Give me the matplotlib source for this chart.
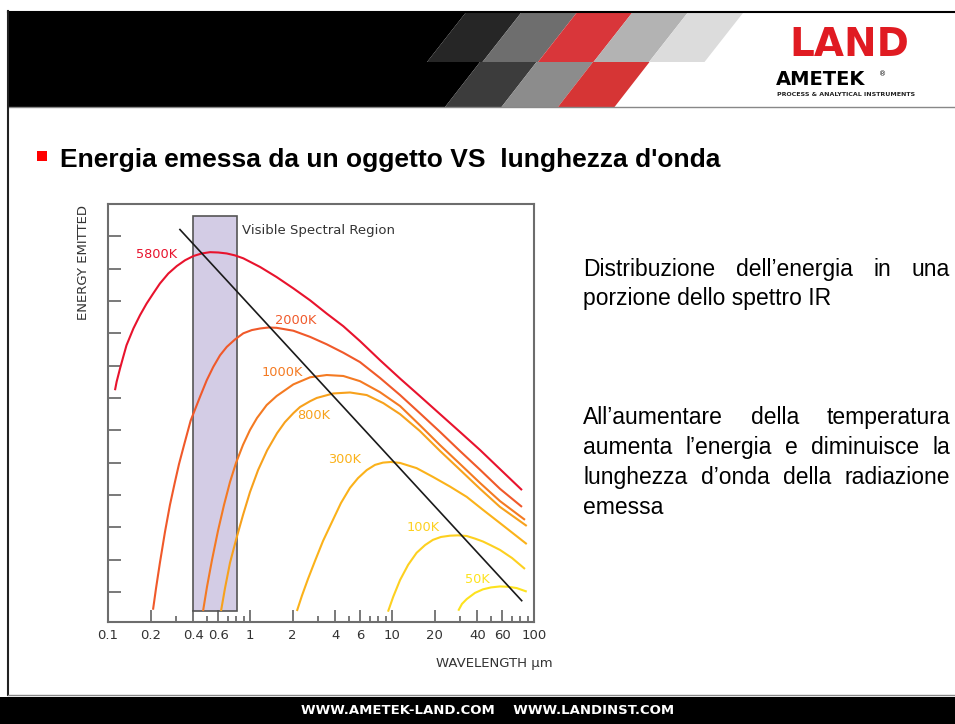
import matplotlib
matplotlib.use('Agg')
import matplotlib.pyplot as plt
from matplotlib.patches import Polygon, Rectangle
from matplotlib.ticker import FixedLocator, NullFormatter

# curves: wavelength (um) vs relative energy
wl_5800 = [0.112, 0.115, 0.1215, 0.128, 0.135, 0.151, 0.168, 0.187, 0.208, 0.232, 0.266,
           0.305, 0.349, 0.399, 0.457, 0.523, 0.598, 0.686, 0.784, 0.897, 1.18, 1.54,
           2.02, 2.65, 3.47, 4.54, 5.95, 8.23, 11.4, 15.7, 21.8, 30.1, 41.7, 57.6, 82.3]
en_5800 = [7.24, 7.50, 7.91, 8.27, 8.63, 9.15, 9.56, 9.92, 10.23, 10.54, 10.85,
           11.08, 11.26, 11.39, 11.47, 11.51, 11.50, 11.47, 11.41, 11.32, 11.05, 10.74,
           10.39, 10.02, 9.61, 9.22, 8.76, 8.17, 7.60, 7.06, 6.50, 5.95, 5.39, 4.80, 4.15]

wl_2000 = [0.2075, 0.218, 0.232, 0.252, 0.273, 0.296, 0.316, 0.343, 0.382, 0.445, 0.496,
           0.551, 0.615, 0.686, 0.784, 0.897, 1.03, 1.18, 1.35, 1.54, 2.02, 2.65, 3.47,
           4.54, 5.95, 8.23, 11.4, 15.7, 21.8, 30.1, 41.7, 57.6, 82.3]
en_2000 = [0.45, 1.12, 1.90, 2.86, 3.69, 4.40, 4.95, 5.54, 6.30, 7.04, 7.55,
           7.96, 8.32, 8.58, 8.81, 9.00, 9.10, 9.15, 9.18, 9.17, 9.08, 8.89, 8.66,
           8.40, 8.11, 7.62, 7.09, 6.53, 5.95, 5.36, 4.78, 4.19, 3.63]

wl_1000 = [0.467, 0.498, 0.540, 0.595, 0.656, 0.723, 0.797, 0.893, 1.00, 1.12, 1.31,
           1.54, 2.02, 2.65, 3.47, 4.54, 5.95, 8.23, 11.4, 15.7, 21.8, 30.1, 41.7,
           57.6, 86.4]
en_1000 = [0.41, 1.16, 1.99, 2.89, 3.69, 4.40, 4.99, 5.55, 6.01, 6.38, 6.78,
           7.06, 7.42, 7.64, 7.71, 7.68, 7.52, 7.18, 6.75, 6.16, 5.54, 4.96, 4.37,
           3.81, 3.23]

wl_800 = [0.625, 0.667, 0.723, 0.797, 0.893, 1.00, 1.14, 1.32, 1.55, 1.76, 2.02,
          2.25, 2.65, 2.95, 3.86, 5.06, 6.64, 8.69, 11.4, 15.7, 21.8, 30.1, 41.7,
          57.6, 88.9]
en_800 = [0.41, 1.12, 1.90, 2.61, 3.38, 4.09, 4.77, 5.38, 5.91, 6.25, 6.53,
          6.72, 6.90, 7.00, 7.14, 7.17, 7.09, 6.84, 6.50, 5.98, 5.36, 4.78, 4.19,
          3.63, 3.04]

wl_300 = [2.14, 2.32, 2.56, 2.87, 3.27, 3.84, 4.37, 5.06, 5.76, 6.64, 7.59, 8.64,
          9.84, 11.4, 14.9, 19.4, 25.6, 33.6, 43.7, 57.6, 88.9]
en_300 = [0.41, 0.88, 1.40, 1.96, 2.58, 3.23, 3.75, 4.22, 4.52, 4.77, 4.93, 5.00,
          5.02, 4.99, 4.83, 4.56, 4.26, 3.94, 3.54, 3.13, 2.48]

wl_100 = [9.37, 10.2, 11.4, 13.0, 14.9, 17.1, 19.4, 22.1, 25.6, 29.2, 33.6, 38.4,
          43.7, 49.8, 57.6, 70.0, 86.4]
en_100 = [0.39, 0.85, 1.37, 1.84, 2.21, 2.45, 2.61, 2.70, 2.74, 2.75, 2.73, 2.65,
          2.56, 2.44, 2.30, 2.05, 1.71]

wl_50 = [29.3, 31.1, 33.6, 38.4, 43.7, 49.8, 57.6, 65.6, 75.5, 88.9]
en_50 = [0.42, 0.63, 0.78, 0.97, 1.08, 1.14, 1.17, 1.16, 1.12, 1.01]

# Wien displacement line and visible band
wien_wl = [0.321, 81.9]
wien_en = [12.21, 0.73]
visible_wl = [0.395, 0.806]
visible_en = [0.41, 12.62]

temps = ['5800K', '2000K', '1000K', '800K', '300K', '100K', '50K']
colors = ['#e8132d', '#f0592a', '#f47a22', '#f7a11c', '#fbb21a', '#fdd020', '#fde21e']
label_pos = [(0.221, 11.45), (2.11, 9.41), (1.68, 7.80), (2.82, 6.47),
             (4.67, 5.11), (16.5, 2.98), (39.7, 1.37)]

xticks = [0.1, 0.2, 0.4, 0.6, 1, 2, 4, 6, 10, 20, 40, 60, 100]
xticklabels = ['0.1', '0.2', '0.4', '0.6', '1', '2', '4', '6', '10', '20', '40', '60', '100']
xminor = [0.3, 0.5, 0.7, 0.8, 0.9, 3, 5, 7, 8, 9, 30, 50, 70, 80, 90]

fig = plt.figure(figsize=(9.55, 7.24), dpi=100)

# slide background in pixel coords
bg = fig.add_axes([0, 0, 1, 1])
bg.set_xlim(0, 955)
bg.set_ylim(724, 0)
bg.axis('off')

# header band
bg.add_patch(Polygon([(8, 11), (467, 11), (427, 62), (480, 62), (445, 107), (8, 107)],
                     closed=True, fc='black', ec='none'))
for i, c in enumerate(['#262626', '#6e6e6e', '#d9363a', '#b3b3b3', '#dcdcdc']):
    x0 = 467 + 55.5 * i
    x1 = 427 + 55.5 * i
    bg.add_patch(Polygon([(x0, 11), (x0 + 55.5, 11), (x1 + 55.5, 62), (x1, 62)],
                         closed=True, fc=c, ec='none'))
for i, c in enumerate(['#3c3c3c', '#8c8c8c', '#d63535']):
    x0 = 480 + 56.5 * i
    x1 = 445 + 56.5 * i
    bg.add_patch(Polygon([(x0, 62), (x0 + 56.5, 62), (x1 + 56.5, 107), (x1, 107)],
                         closed=True, fc=c, ec='none'))
bg.plot([8, 955], [11.5, 11.5], color='black', lw=1.5)
bg.plot([8, 955], [107, 107], color='#888888', lw=1)
bg.plot([8, 8], [11, 695], color='#222222', lw=1.5)
bg.plot([8, 955], [695, 695], color='#888888', lw=1)
bg.add_patch(Rectangle((0, 697), 955, 27, fc='black', ec='none'))

# logo
bg.text(849, 45, 'LAND', color='#e01b22', fontsize=28, fontweight='heavy',
        ha='center', va='center')
bg.text(776, 85, 'AMETEK', color='black', fontsize=14, fontweight='heavy',
        ha='left', va='baseline')
bg.text(879, 74, '®', color='black', fontsize=5, ha='left', va='center')
bg.text(777, 94.5, 'PROCESS & ANALYTICAL INSTRUMENTS', color='#222222', fontsize=4.5,
        fontweight='bold', ha='left', va='center')

# footer
bg.text(488, 711, 'WWW.AMETEK-LAND.COM    WWW.LANDINST.COM', color='white',
        fontsize=9.5, fontweight='bold', ha='center', va='center')

# title
bg.add_patch(Rectangle((37, 151), 10, 10, fc='#ff0000', ec='none'))
bg.text(60, 167, "Energia emessa da un oggetto VS  lunghezza d'onda", fontsize=19,
        fontweight='bold', family='Liberation Sans', ha='left', va='baseline')

# right-hand text, justified lines
rend = fig.canvas.get_renderer()


def justify(line, x0, x1, y):
    words = line.split()
    ts = [bg.text(0, y, w, fontsize=16.5, family='Liberation Sans', va='baseline')
          for w in words]
    widths = [t.get_window_extent(rend).width for t in ts]
    gap = (x1 - x0 - sum(widths)) / (len(words) - 1)
    x = x0
    for t, w in zip(ts, widths):
        t.set_x(x)
        x += w + gap


def plain(line, x0, y):
    bg.text(x0, y, line, fontsize=16.5, family='Liberation Sans', va='baseline')


justify('Distribuzione dell’energia in una', 583, 950, 276)
plain('porzione dello spettro IR', 583, 305)
justify('All’aumentare della temperatura', 583, 950, 424)
justify('aumenta l’energia e diminuisce la', 583, 950, 454)
justify('lunghezza d’onda della radiazione', 583, 950, 484)
plain('emessa', 583, 514)

# chart
ax = fig.add_axes([108 / 955, 1 - 622 / 724, 426 / 955, 418 / 724])
ax.set_xscale('log')
ax.set_xlim(0.1, 100)
ax.set_ylim(0.07, 13.0)

ax.add_patch(Rectangle((visible_wl[0], visible_en[0]), visible_wl[1] - visible_wl[0],
                       visible_en[1] - visible_en[0], fc='#d3cce5', ec='#555555', lw=1.2,
                       zorder=1))
ax.text(0.878, 12.19, 'Visible Spectral Region', color='#333333', fontsize=9.5,
        ha='left', va='center')

series = [(wl_5800, en_5800), (wl_2000, en_2000), (wl_1000, en_1000), (wl_800, en_800),
          (wl_300, en_300), (wl_100, en_100), (wl_50, en_50)]
for (wl, en), c, t, (lx, ly) in zip(series, colors, temps, label_pos):
    ax.plot(wl, en, color=c, lw=1.5, zorder=3, solid_capstyle='butt',
            solid_joinstyle='round')
    ax.text(lx, ly, t, color=c, fontsize=9.3, ha='center', va='center', zorder=4)

ax.plot(wien_wl, wien_en, color='#1a1a1a', lw=1.2, zorder=5)

ax.set_xticks(xticks)
ax.set_xticklabels(xticklabels)
ax.xaxis.set_minor_locator(FixedLocator(xminor))
ax.xaxis.set_minor_formatter(NullFormatter())
ax.set_yticks(range(1, 13))
ax.set_yticklabels([])
ax.tick_params(axis='x', which='major', direction='in', length=8.6, width=1.1,
               color='#555555', labelsize=9.5, labelcolor='#333333', pad=5)
ax.tick_params(axis='x', which='minor', direction='in', length=4.3, width=1.1,
               color='#555555')
ax.tick_params(axis='y', direction='in', length=9.4, width=1.1, color='#555555')
for s in ax.spines.values():
    s.set_color('#6d6d6d')
    s.set_linewidth(1.5)

bg.text(83, 205, 'ENERGY EMITTED', rotation=90, color='#333333', fontsize=9.5,
        ha='center', va='top')
bg.text(553, 663, 'WAVELENGTH μm', color='#333333', fontsize=9.5, ha='right', va='center')

fig.savefig('out.png', dpi=100)
